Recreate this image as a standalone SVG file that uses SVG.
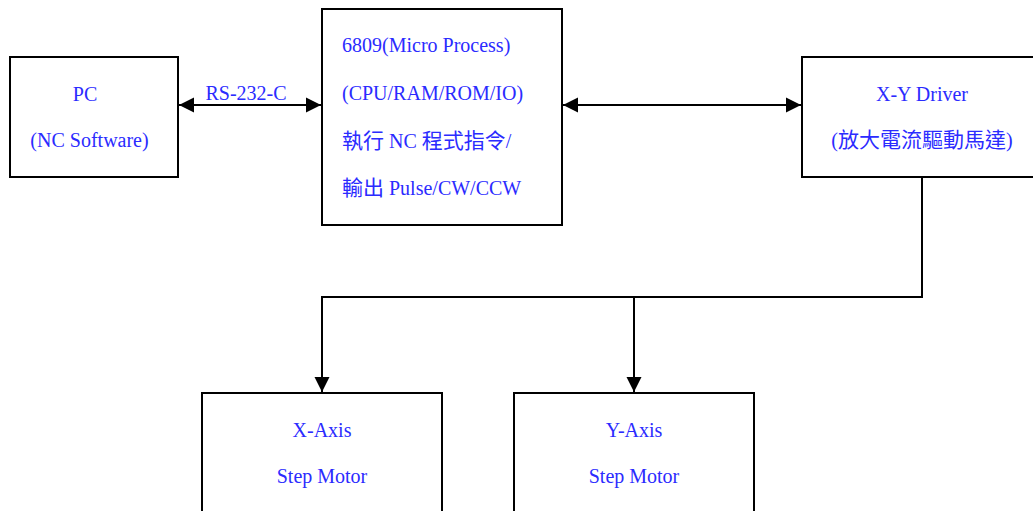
<svg xmlns="http://www.w3.org/2000/svg" width="1033" height="511" viewBox="0 0 1033 511">
<style>
.box{fill:#fff;stroke:#000;stroke-width:2}
.t{font-family:"Liberation Serif","Noto Sans CJK TC",serif;font-size:20px;fill:#2b2bff}
.m{text-anchor:middle}
.cjk{font-size:21px}
.ln{fill:none;stroke:#000;stroke-width:2}
</style>
<defs>
<marker id="ah" markerUnits="userSpaceOnUse" markerWidth="16" markerHeight="16" refX="15" refY="8" orient="auto-start-reverse" viewBox="0 0 16 16">
<path d="M0 0.5 L15 8 L0 15.5 Z" fill="#000"/>
</marker>
</defs>
<rect width="1033" height="511" fill="#fff"/>
<g id="connectors">
<line class="ln" x1="179" y1="105" x2="321" y2="105" marker-start="url(#ah)" marker-end="url(#ah)"/>
<line class="ln" x1="563" y1="105" x2="801" y2="105" marker-start="url(#ah)" marker-end="url(#ah)"/>
<path class="ln" d="M922 177 V297 H322 V392" marker-end="url(#ah)"/>
<path class="ln" d="M634 297 V392" marker-end="url(#ah)"/>
<text class="t m" x="246" y="100">RS-232-C</text>
</g>
<g id="pc">
<rect class="box" x="10" y="57" width="168" height="120"/>
<text class="t m" x="85" y="101">PC</text>
<text class="t m" x="89.5" y="147">(NC Software)</text>
</g>
<g id="cpu">
<rect class="box" x="322" y="9" width="240" height="216"/>
<text class="t" x="342" y="52">6809(Micro Process)</text>
<text class="t" x="342" y="100">(CPU/RAM/ROM/IO)</text>
<text class="t" x="342" y="148"><tspan class="cjk">執行</tspan> NC <tspan class="cjk">程式指令</tspan>/</text>
<text class="t" x="342" y="195"><tspan class="cjk">輸出</tspan> Pulse/CW/CCW</text>
</g>
<g id="driver">
<rect class="box" x="802" y="57" width="240" height="120"/>
<text class="t m" x="922" y="101">X-Y Driver</text>
<text class="t m" x="922" y="147">(<tspan class="cjk">放大電流驅動馬達</tspan>)</text>
</g>
<g id="xaxis">
<rect class="box" x="202" y="393" width="240" height="150"/>
<text class="t m" x="322" y="437">X-Axis</text>
<text class="t m" x="322" y="483">Step Motor</text>
</g>
<g id="yaxis">
<rect class="box" x="514" y="393" width="240" height="150"/>
<text class="t m" x="634" y="437">Y-Axis</text>
<text class="t m" x="634" y="483">Step Motor</text>
</g>
</svg>
